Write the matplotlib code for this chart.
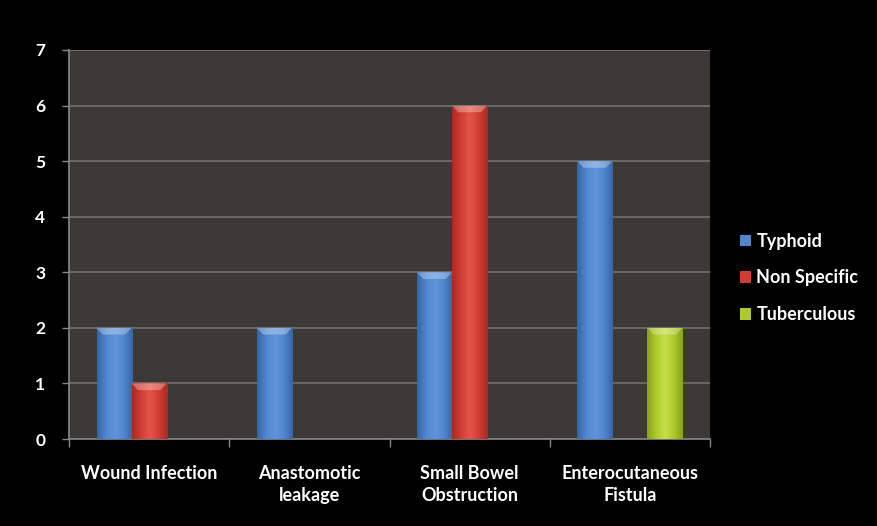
import matplotlib
matplotlib.use("Agg")
import matplotlib.pyplot as plt
import numpy as np
from matplotlib.colors import LinearSegmentedColormap
from matplotlib.patches import Polygon, Rectangle

plt.rcParams['font.family'] = ['Lato', 'DejaVu Sans']

categories = ["Wound Infection", "Anastomotic\nleakage", "Small Bowel\nObstruction", "Enterocutaneous\nFistula"]
series_names = ["Typhoid", "Non Specific", "Tuberculous"]
typhoid = [2, 2, 3, 5]
non_specific = [1, 0, 6, 0]
tuberculous = [0, 0, 0, 2]
series_values = [typhoid, non_specific, tuberculous]
y_ticks = [0, 1, 2, 3, 4, 5, 6, 7]

# (dark edge, mid, light centre) for each series
palettes = [
    ("#3566a8", "#4f86cc", "#6394dc"),
    ("#ab2a22", "#d13d33", "#e2564a"),
    ("#87a316", "#adca2c", "#c6de48"),
]

fig = plt.figure(figsize=(8.77, 5.26), dpi=100, facecolor="black")
ax = fig.add_axes([69 / 877, 1 - 439 / 526, (710 - 69) / 877, (439 - 50) / 526])
ax.set_facecolor("#3c3838")

n = len(series_values)
bar_w = 35 / 160
x = np.arange(len(categories))
ax.set_xlim(-0.5, len(categories) - 0.5)
ax.set_ylim(0, 7)


def gradient_bar(xc, h, pal):
    left = xc - bar_w / 2
    cmap = LinearSegmentedColormap.from_list("g", [pal[0], pal[1], pal[2], pal[1], pal[0]])
    grad = np.linspace(0, 1, 64)[None, :]
    rect = Rectangle((left, 0), bar_w, h, transform=ax.transData, facecolor="none", edgecolor="none")
    ax.add_patch(rect)
    im = ax.imshow(grad, cmap=cmap, aspect="auto", extent=(left, left + bar_w, 0, h),
                   interpolation="bicubic", zorder=3)
    im.set_clip_path(rect)
    # bevelled top face
    bev_x = bar_w * 0.18
    bev_y = 0.12
    top = Polygon([(left, h), (left + bar_w, h), (left + bar_w - bev_x, h - bev_y),
                   (left + bev_x, h - bev_y)], closed=True, facecolor="white",
                  alpha=0.3, edgecolor="none", zorder=4)
    ax.add_patch(top)


for si, vals in enumerate(series_values):
    offset = (si - (n - 1) / 2) * bar_w
    for ci, v in enumerate(vals):
        if v > 0:
            gradient_bar(x[ci] + offset, v, palettes[si])

ax.set_xlim(-0.5, len(categories) - 0.5)
ax.set_ylim(0, 7)

for yv in y_ticks[1:]:
    ax.axhline(yv, color="#737070", lw=1.2, zorder=1)

ax.set_yticks(y_ticks)
ax.set_yticklabels([str(t) for t in y_ticks], color="white", fontsize=12.5, fontweight="bold")
ax.set_xticks(x)
ax.set_xticklabels(categories, color="white", fontsize=13, fontweight="bold", linespacing=1.35)
ax.tick_params(axis="x", length=0, pad=19)
ax.tick_params(axis="y", length=5, color="#8a8888", width=1, pad=12, direction="out")
ax.set_xticks(np.arange(-0.5, len(categories)), minor=True)
ax.tick_params(axis="x", which="minor", length=6, color="#8a8888", width=1, direction="out")

for s in ["top", "right"]:
    ax.spines[s].set_visible(False)
for s in ["left", "bottom"]:
    ax.spines[s].set_color("#8a8888")
    ax.spines[s].set_linewidth(1.2)

# legend
handles = [Rectangle((0, 0), 1, 1, facecolor=p[1], edgecolor="none") for p in palettes]
leg = fig.legend(handles, series_names, loc="center left", bbox_to_anchor=(724 / 877, 1 - 278 / 526),
                 frameon=False, handlelength=0.6, handleheight=0.6, handletextpad=0.3,
                 labelspacing=1.1, prop={"size": 13, "weight": "bold", "family": ["Lato", "DejaVu Sans"]})
for t in leg.get_texts():
    t.set_color("white")

fig.savefig("out.png", dpi=100, facecolor="black")
